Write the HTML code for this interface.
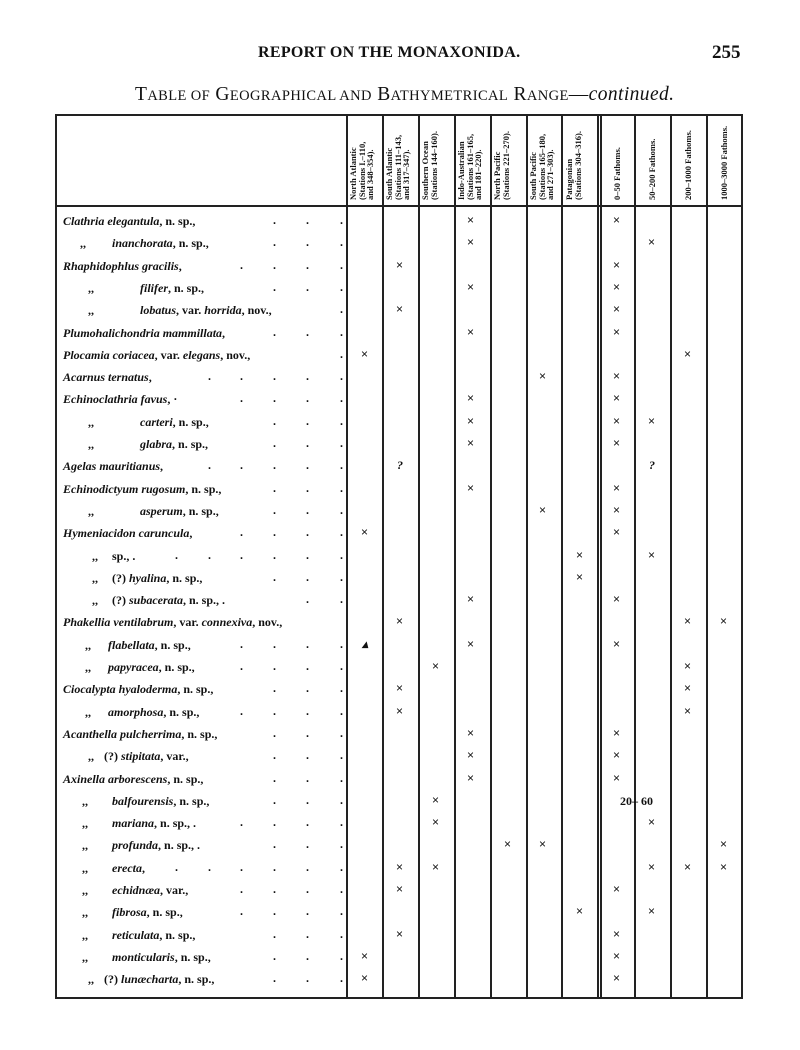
<!DOCTYPE html>
<html><head><meta charset="utf-8"><style>
body{margin:0;background:#fff;}
#p{position:relative;width:800px;height:1050px;background:#fff;font-family:"Liberation Serif",serif;color:#111;overflow:hidden}
.a{position:absolute;white-space:nowrap}
.v{position:absolute;width:1.6px;background:#222}
.h{position:absolute;height:1.6px;background:#222}
.hd{position:absolute;transform:rotate(-90deg);transform-origin:0 0;font-size:8.5px;line-height:8.5px;font-weight:bold;font-family:"Liberation Serif",serif;white-space:nowrap}
.n{font-size:12px;font-weight:bold}
.n i{font-style:italic}
.x{position:absolute;font-size:12px;font-family:"Liberation Sans",sans-serif}
.d{position:absolute;font-size:12px;font-weight:bold}
</style></head><body><div id="p">
<div class="a" style="left:258px;top:44px;font-size:16px;font-weight:bold;letter-spacing:0.3px">REPORT ON THE MONAXONIDA.</div>
<div class="a" style="left:712px;top:42px;font-size:19px;font-weight:bold">255</div>
<div class="a" style="left:135px;top:84px;font-size:19.5px;letter-spacing:0.4px">T<span style="font-size:14.5px">ABLE OF</span> G<span style="font-size:14.5px">EOGRAPHICAL AND</span> B<span style="font-size:14.5px">ATHYMETRICAL</span> R<span style="font-size:14.5px">ANGE</span>—<i>continued.</i></div>
<div class="h" style="left:55px;top:114px;width:688px;height:2px"></div>
<div class="h" style="left:55px;top:205px;width:688px"></div>
<div class="h" style="left:55px;top:997px;width:688px;height:2px"></div>
<div id="g"></div>
</div>
<script>
var g=document.getElementById('g'),h='';
var L=[55,346,382,418,454,490,526,561,597,600,634,670,706,741];
L.forEach(function(x){h+='<div class="v" style="left:'+x+'px;top:115px;height:883px"></div>';});
var C=[365,400,436,471,508,543,580,617,652,688,724];
var HD=[["North Atlantic","(Stations I.–110,","and 348–354)."],["South Atlantic","(Stations 111–143,","and 317–347)."],["Southern Ocean","(Stations 144–160)."],["Indo-Australian","(Stations 161–165,","and 181–220)."],["North Pacific","(Stations 221–270)."],["South Pacific","(Stations 165–180,","and 271–303)."],["Patagonian","(Stations 304–316)."],["0–50 Fathoms."],["50–200 Fathoms."],["200–1000 Fathoms."],["1000–3000 Fathoms."]];
HD.forEach(function(t,i){var left=[349,385,421,457,493,529,565,613,648,684,720][i];
if(i>=7)left=C[i]-4;
h+='<div class="hd" style="left:'+left+'px;top:200px">'+t.join('<br>')+'</div>';});
var R=[
["<i>Clathria elegantula</i>, n. sp.,",0,{3:'x',7:'x'}],
["<i>inanchorata</i>, n. sp.,",1,{3:'x',8:'x'}],
["<i>Rhaphidophlus gracilis</i>,",0,{1:'x',7:'x'}],
["<i>filifer</i>, n. sp.,",2,{3:'x',7:'x'}],
["<i>lobatus</i>, var. <i>horrida</i>, nov.,",2,{1:'x',7:'x'}],
["<i>Plumohalichondria mammillata</i>,",0,{3:'x',7:'x'}],
["<i>Plocamia coriacea</i>, var. <i>elegans</i>, nov.,",0,{0:'x',9:'x'}],
["<i>Acarnus ternatus</i>,",0,{5:'x',7:'x'}],
["<i>Echinoclathria favus</i>, ·",0,{3:'x',7:'x'}],
["<i>carteri</i>, n. sp.,",2,{3:'x',7:'x',8:'x'}],
["<i>glabra</i>, n. sp.,",2,{3:'x',7:'x'}],
["<i>Agelas mauritianus</i>,",0,{1:'?',8:'?'}],
["<i>Echinodictyum rugosum</i>, n. sp.,",0,{3:'x',7:'x'}],
["<i>asperum</i>, n. sp.,",2,{5:'x',7:'x'}],
["<i>Hymeniacidon caruncula</i>,",0,{0:'x',7:'x'}],
["sp., .",3,{6:'x',8:'x'}],
["(?) <i>hyalina</i>, n. sp.,",3,{6:'x'}],
["(?) <i>subacerata</i>, n. sp., .",3,{3:'x',7:'x'}],
["<i>Phakellia ventilabrum</i>, var. <i>connexiva</i>, nov.,",0,{1:'x',9:'x',10:'x'}],
["<i>flabellata</i>, n. sp.,",4,{0:'▴',3:'x',7:'x'}],
["<i>papyracea</i>, n. sp.,",4,{2:'x',9:'x'}],
["<i>Ciocalypta hyaloderma</i>, n. sp.,",0,{1:'x',9:'x'}],
["<i>amorphosa</i>, n. sp.,",4,{1:'x',9:'x'}],
["<i>Acanthella pulcherrima</i>, n. sp.,",0,{3:'x',7:'x'}],
["(?) <i>stipitata</i>, var.,",5,{3:'x',7:'x'}],
["<i>Axinella arborescens</i>, n. sp.,",0,{3:'x',7:'x'}],
["<i>balfourensis</i>, n. sp.,",6,{2:'x'}],
["<i>mariana</i>, n. sp., .",6,{2:'x',8:'x'}],
["<i>profunda</i>, n. sp., .",6,{4:'x',5:'x',10:'x'}],
["<i>erecta</i>,",6,{1:'x',2:'x',8:'x',9:'x',10:'x'}],
["<i>echidnæa</i>, var.,",6,{1:'x',7:'x'}],
["<i>fibrosa</i>, n. sp.,",6,{6:'x',8:'x'}],
["<i>reticulata</i>, n. sp.,",6,{1:'x',7:'x'}],
["<i>monticularis</i>, n. sp.,",6,{0:'x',7:'x'}],
["(?) <i>lunæcharta</i>, n. sp.,",5,{0:'x',7:'x'}]];
var IND={1:[80,112],2:[88,140],3:[92,112],4:[85,108],5:[88,104],6:[82,112]};
var DX=[175,208,240,273,306,340];
R.forEach(function(r,i){var y=222+i*22.3;var t=y-8;
 if(r[1]==0){h+='<div class="a n" style="left:63px;top:'+t+'px">'+r[0]+'</div>';}
 else{var ii=IND[r[1]];h+='<div class="a n" style="left:'+ii[0]+'px;top:'+t+'px">,,</div><div class="a n" style="left:'+ii[1]+'px;top:'+t+'px">'+r[0]+'</div>';}
 var len=r[0].replace(/<[^>]+>/g,'').length*6.3+(r[1]?IND[r[1]][1]:63)+12;
 DX.forEach(function(dx){if(dx>len)h+='<div class="d" style="left:'+dx+'px;top:'+(t-1)+'px">.</div>';});
 for(var k in r[2]){var s=r[2][k];if(s=='x')h+='<div class="x" style="left:'+(C[k]-4)+'px;top:'+(t-1)+'px">×</div>';
 else h+='<div class="x" style="left:'+(C[k]-3)+'px;top:'+(t-1)+'px;font-family:Liberation Serif,serif;font-style:italic;font-weight:bold">'+s+'</div>';}
});
h+='<div class="a n" style="left:620px;top:'+(222+26*22.3-8)+'px">20–&nbsp;60</div>';
g.innerHTML=h;
</script>
</body></html>
